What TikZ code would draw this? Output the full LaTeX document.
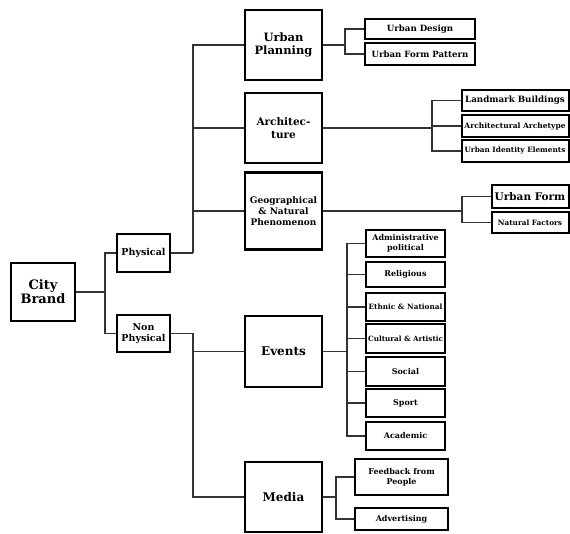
\documentclass[tikz,border=0pt]{standalone}
\usepackage{fontspec}
\setmainfont{DejaVu Serif}
\newcommand{\boxfont}[2]{\fontsize{#1}{#2}\selectfont}
\tikzset{
  box/.style={draw, line width=2.2pt, align=center, inner sep=1pt, minimum width=77, font=\bfseries\boxfont{11.5}{13.5}},
  leaf/.style={draw, line width=2pt, align=center, inner sep=1pt, font=\bfseries\boxfont{8}{10}},
  wire/.style={line width=1.7pt, black!80}
}
\begin{document}
\begin{tikzpicture}[x=1pt,y=-1pt]
\useasboundingbox (0,0) rectangle (570,534);
% left part
\node[box, minimum width=64, minimum height=58, font=\bfseries\boxfont{13}{11.5}] (brand) at (43,292) {City\\Brand};
\node[box, line width=2pt, minimum width=53, minimum height=38, font=\bfseries\boxfont{9.5}{11}] (phys) at (143.5,253) {Physical};
\node[box, line width=2pt, minimum width=53, minimum height=37, font=\bfseries\boxfont{9.5}{11}] (nonphys) at (143.5,333.5) {Non\\Physical};
% middle column
\node[box, minimum height=70] (plan) at (283.5,45) {Urban\\Planning};
\node[box, minimum height=70, font=\bfseries\boxfont{10.5}{13}] (arch) at (283.5,128) {Architec-\\ture};
\node[box, minimum height=77, font=\bfseries\boxfont{9}{11}] (geo) at (283.5,211) {Geographical\\\& Natural\\Phenomenon};
\node[box, minimum height=71, font=\bfseries\boxfont{12}{14}] (events) at (283.5,351.5) {Events};
\node[box, minimum height=70, font=\bfseries\boxfont{12}{14}] (media) at (283.5,497) {Media};
% right column
\node[leaf, minimum width=110, minimum height=20, font=\bfseries\boxfont{8.6}{10}] (design) at (420,29) {Urban Design};
\node[leaf, minimum width=110, minimum height=22, font=\bfseries\boxfont{8.6}{10}] (formpat) at (420,54) {Urban Form Pattern};
\node[leaf, minimum width=107, minimum height=21, font=\bfseries\boxfont{8.7}{10}] (landmark) at (515,100.5) {Landmark Buildings};
\node[leaf, minimum width=107, minimum height=22, font=\bfseries\boxfont{7.5}{9}] (archetype) at (515,126) {Architectural Archetype};
\node[leaf, minimum width=107, minimum height=22, font=\bfseries\boxfont{7.3}{9}] (identity) at (515,151) {Urban Identity Elements};
\node[leaf, minimum width=77, minimum height=23, font=\bfseries\boxfont{10.5}{12}] (urbform) at (530,196.5) {Urban Form};
\node[leaf, minimum width=77, minimum height=21, font=\bfseries\boxfont{7.3}{9}] (natural) at (530,222.5) {Natural Factors};
\node[leaf, minimum width=79, minimum height=27] (admin) at (405.5,243.5) {Administrative\\political};
\node[leaf, minimum width=79, minimum height=25] (relig) at (405.5,274.5) {Religious};
\node[leaf, minimum width=79, minimum height=28, font=\bfseries\boxfont{7.3}{9}] (ethnic) at (405.5,307) {Ethnic \& National};
\node[leaf, minimum width=79, minimum height=29, font=\bfseries\boxfont{7.2}{9}] (cultural) at (405.5,338.5) {Cultural \& Artistic};
\node[leaf, minimum width=79, minimum height=29] (social) at (405.5,371.5) {Social};
\node[leaf, minimum width=79, minimum height=28] (sport) at (405.5,403) {Sport};
\node[leaf, minimum width=79, minimum height=28] (academic) at (405.5,436) {Academic};
\node[leaf, minimum width=93, minimum height=36] (feedback) at (401.5,477) {Feedback from\\People};
\node[leaf, minimum width=93, minimum height=22] (advert) at (401.5,519) {Advertising};
% connectors
\coordinate (jb) at (105,292);
\draw[wire] (brand) -- (jb);
\draw[wire] (phys) -| (jb) |- (nonphys);
\coordinate (jp) at (193,253);
\draw[wire] (phys) -- (jp);
\foreach \n in {plan,arch,geo} \draw[wire] (jp) |- (\n);
\coordinate (jn) at (193,333.5);
\draw[wire] (nonphys) -- (jn);
\foreach \n in {events,media} \draw[wire] (jn) |- (\n);
\coordinate (ju) at (345,45);
\draw[wire] (plan) -- (ju);
\foreach \n in {design,formpat} \draw[wire] (ju) |- (\n);
\coordinate (ja) at (432,128);
\draw[wire] (arch) -- (ja);
\foreach \n in {landmark,archetype,identity} \draw[wire] (ja) |- (\n);
\coordinate (jg) at (462,211);
\draw[wire] (geo) -- (jg);
\foreach \n in {urbform,natural} \draw[wire] (jg) |- (\n);
\coordinate (je) at (347,351.5);
\draw[wire] (events) -- (je);
\foreach \n in {admin,relig,ethnic,cultural,social,sport,academic} \draw[wire] (je) |- (\n);
\coordinate (jm) at (336,497);
\draw[wire] (media) -- (jm);
\foreach \n in {feedback,advert} \draw[wire] (jm) |- (\n);
\end{tikzpicture}
\end{document}
